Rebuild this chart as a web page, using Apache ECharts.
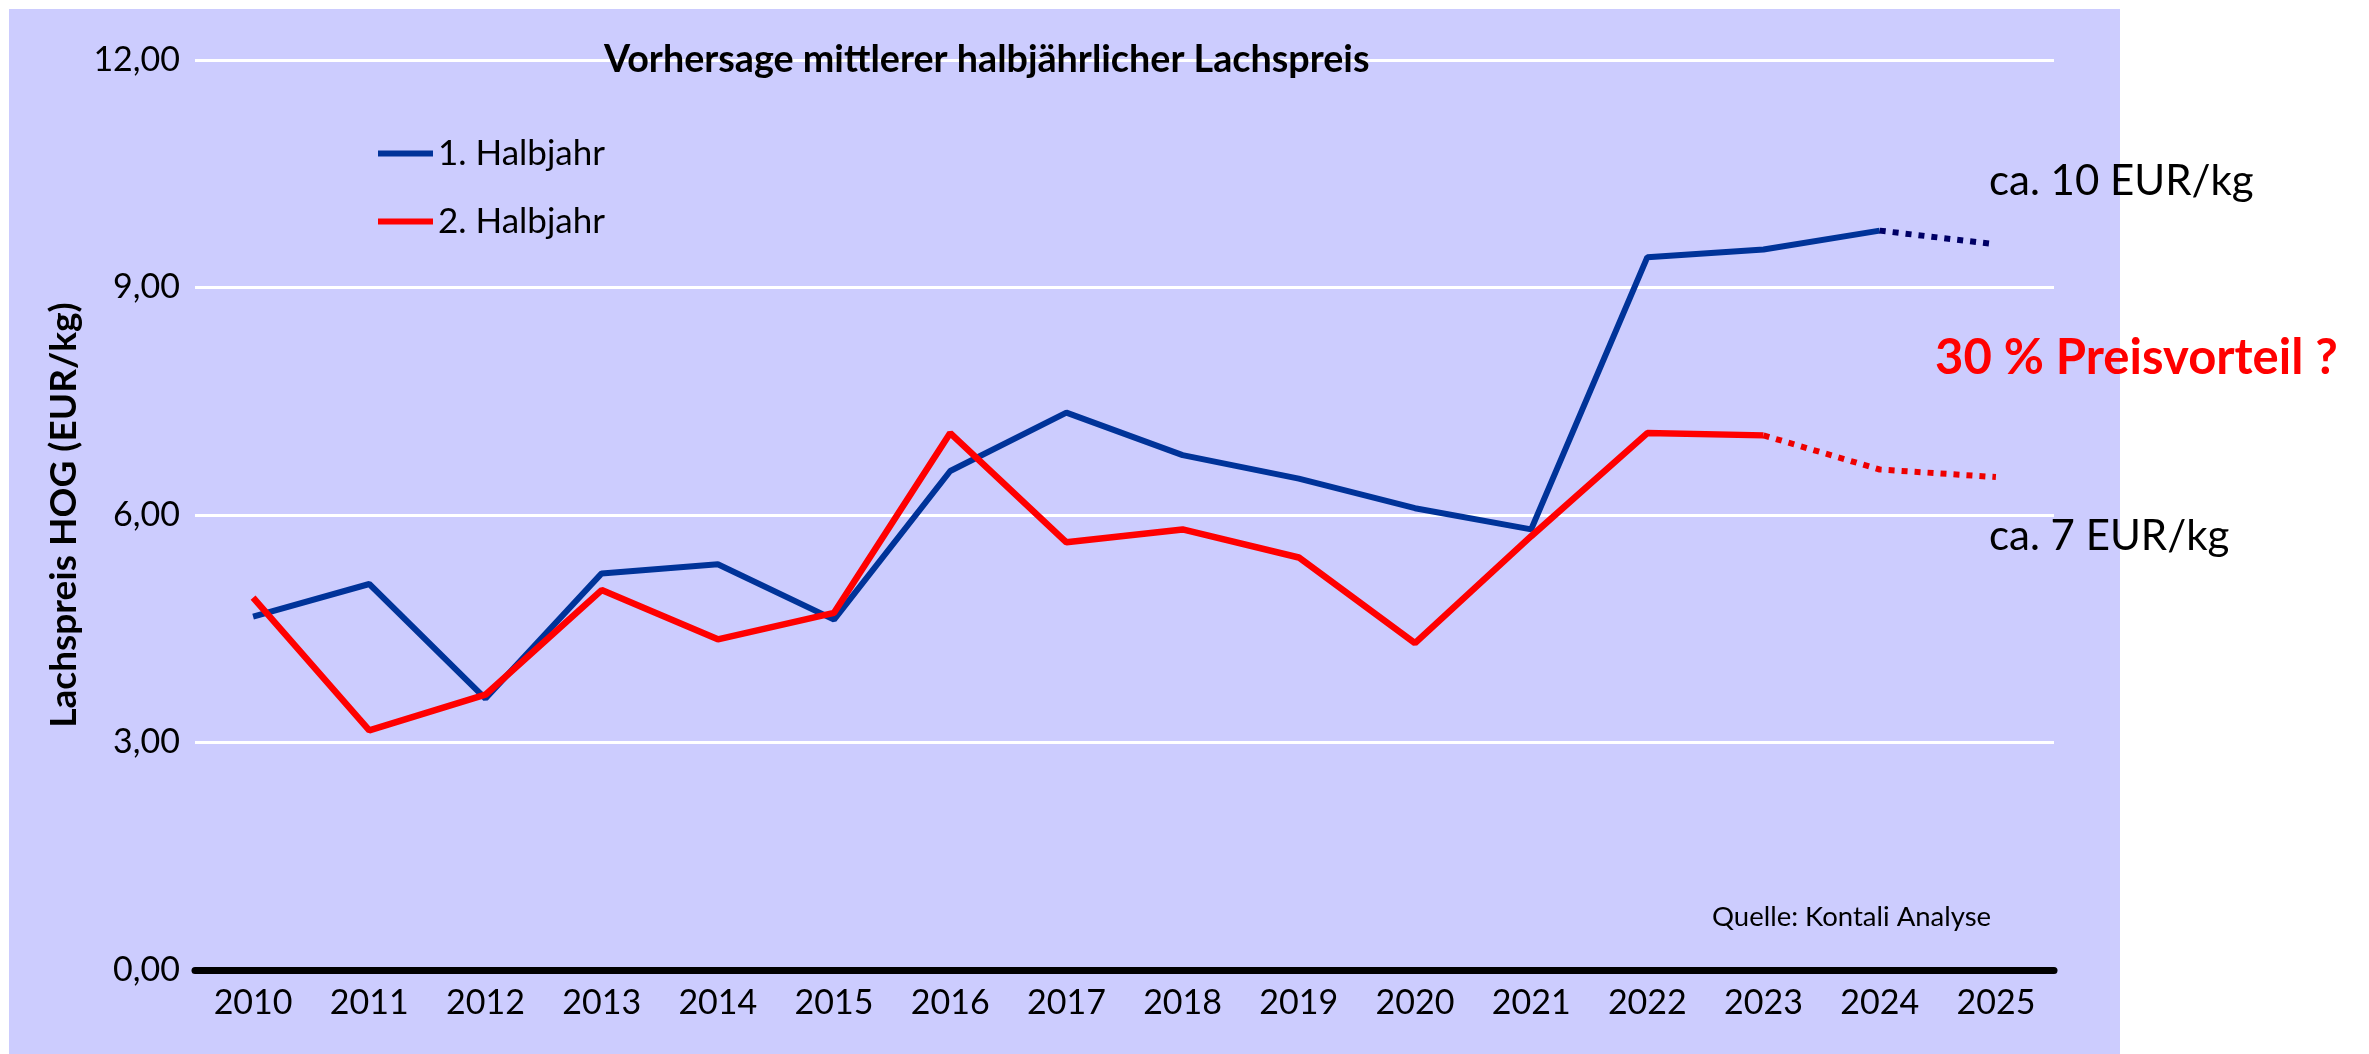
<!DOCTYPE html>
<html><head><meta charset="utf-8">
<script src="https://cdn.jsdelivr.net/npm/echarts@6/dist/echarts.min.js"></script>
<style>html,body{margin:0;padding:0;background:#fff;} #c{width:2369px;height:1054px;}</style>
</head><body><div id="c"></div>
<script>
// ---- data ----
const years = ['2010','2011','2012','2013','2014','2015','2016','2017','2018','2019','2020','2021','2022','2023','2024','2025'];
// 1. Halbjahr, actual 2010-2024
const h1Actual = [4.66, 5.09, 3.58, 5.23, 5.35, 4.62, 6.58, 7.35, 6.79, 6.48, 6.09, 5.81, 9.40, 9.50, 9.75];
// 1. Halbjahr, forecast 2025
const h1Forecast = [9.57];
// 2. Halbjahr, actual 2010-2023
const h2Actual = [4.91, 3.16, 3.63, 5.01, 4.36, 4.71, 7.08, 5.64, 5.81, 5.44, 4.31, 5.72, 7.08, 7.05];
// 2. Halbjahr, forecast 2024-2025
const h2Forecast = [6.60, 6.50];
const yTicks = [0, 3, 6, 9, 12];

// ---- build series data ----
function solid(actual) {
  return years.map((_, i) => i < actual.length ? actual[i] : null);
}
function dotted(actual, fc) {
  const start = actual.length - 1;
  return years.map((_, i) => {
    if (i === start) return actual[start];
    if (i > start) return fc[i - start - 1];
    return null;
  });
}

const FONT = 'Lato';
const chart = echarts.init(document.getElementById('c'), null, {renderer: 'canvas'});
const option = {
  backgroundColor: '#ffffff',
  animation: false,
  grid: {left: 195, right: 315, top: 60, bottom: 84, containLabel: false},
  legend: [
    {data: ['1. Halbjahr'], left: 373, top: 131, orient: 'vertical', icon: 'rect', itemWidth: 55, itemHeight: 6, itemGap: 15,
     textStyle: {fontFamily: FONT, fontSize: 35, color: '#000'}},
    {data: ['2. Halbjahr'], left: 373, top: 199, orient: 'vertical', icon: 'rect', itemWidth: 55, itemHeight: 6, itemGap: 15,
     textStyle: {fontFamily: FONT, fontSize: 35, color: '#000'}}
  ],
  xAxis: {
    type: 'category', data: years, boundaryGap: true,
    axisLine: {show: true, lineStyle: {color: '#000', width: 7}},
    axisTick: {show: false},
    axisLabel: {fontFamily: FONT, fontSize: 34, color: '#000', margin: 16}
  },
  yAxis: {
    type: 'value', min: yTicks[0], max: yTicks[yTicks.length - 1], interval: yTicks[1] - yTicks[0],
    name: 'Lachspreis HOG (EUR/kg)', nameLocation: 'middle', nameGap: 112,
    nameTextStyle: {fontFamily: FONT, fontSize: 37, fontWeight: 'bold', color: '#000'},
    axisLine: {show: false}, axisTick: {show: false},
    axisLabel: {fontFamily: FONT, fontSize: 34, color: '#000', margin: 15,
      formatter: v => v.toFixed(2).replace('.', ',')},
    splitLine: {show: true, lineStyle: {color: '#ffffff', width: 3}}
  },
  series: [
    {name: '1. Halbjahr', type: 'line', data: solid(h1Actual), symbol: 'none', color: '#003399',
     lineStyle: {color: '#003399', width: 6}, z: 3},
    {name: '2. Halbjahr', type: 'line', data: solid(h2Actual), symbol: 'none', color: '#ff0000',
     lineStyle: {color: '#ff0000', width: 6.5}, z: 4},
    {name: '1. Halbjahr Prognose', type: 'line', data: dotted(h1Actual, h1Forecast), symbol: 'none', color: '#000066',
     lineStyle: {color: '#000066', width: 6, type: [6, 7], cap: 'butt'}, z: 3},
    {name: '2. Halbjahr Prognose', type: 'line', data: dotted(h2Actual, h2Forecast), symbol: 'none', color: '#ee0000',
     lineStyle: {color: '#ee0000', width: 6, type: [6, 7], cap: 'butt'}, z: 4}
  ],
  graphic: [
    {type: 'rect', z: -100, silent: true, shape: {x: 9, y: 9, width: 2111, height: 1045}, style: {fill: '#ccccfe'}},
    {type: 'text', z: 50, x: 604, y: 60, style: {text: 'Vorhersage mittlerer halbjährlicher Lachspreis', font: 'bold 37.7px Lato', fill: '#000', textAlign: 'left', align: 'left', textVerticalAlign: 'middle', verticalAlign: 'middle'}},
    {type: 'text', z: 50, x: 1989, y: 181, style: {text: 'ca. 10 EUR/kg', font: '42px Lato', fill: '#000', textAlign: 'left', align: 'left', textVerticalAlign: 'middle', verticalAlign: 'middle'}},
    {type: 'text', z: 50, x: 1935, y: 358, style: {text: '30 % Preisvorteil ?', font: 'bold 49px Lato', fill: '#ff0000', textAlign: 'left', align: 'left', textVerticalAlign: 'middle', verticalAlign: 'middle'}},
    {type: 'text', z: 50, x: 1989, y: 536, style: {text: 'ca. 7 EUR/kg', font: '42px Lato', fill: '#000', textAlign: 'left', align: 'left', textVerticalAlign: 'middle', verticalAlign: 'middle'}},
    {type: 'text', z: 50, x: 1712, y: 917, style: {text: 'Quelle: Kontali Analyse', font: '27.5px Lato', fill: '#000', textAlign: 'left', align: 'left', textVerticalAlign: 'middle', verticalAlign: 'middle'}}
  ]
};
chart.setOption(option);
</script></body></html>
